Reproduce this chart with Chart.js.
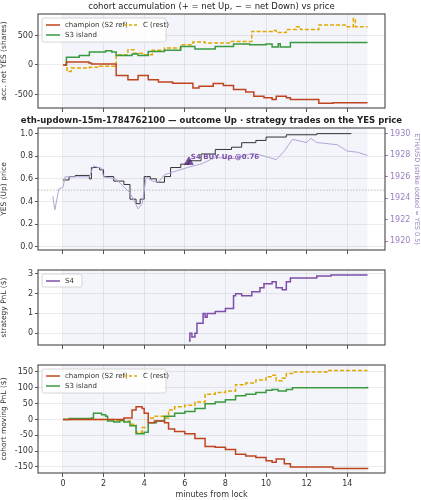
<!DOCTYPE html>
<html><head><meta charset="utf-8">
<script src="https://cdn.jsdelivr.net/npm/chart.js@4/dist/chart.umd.min.js"></script>
<style>body{margin:0;background:#fff}canvas{position:absolute;left:0;top:0}</style>
</head><body>
<canvas id="c1" width="421" height="500"></canvas>
<canvas id="c2" width="421" height="500"></canvas>
<canvas id="c3" width="421" height="500"></canvas>
<canvas id="c4" width="421" height="500"></canvas>
<script>
// ---- data (minutes from lock, value) ----
const accChampion=[[0,0],[0.17,50],[1.28,35],[1.4,15],[2.6,0],[2.62,-180],[3.2,-250],[3.7,-180],[4.2,-250],[4.7,-290],[5.4,-310],[6.4,-390],[6.7,-360],[7.4,-315],[7.9,-350],[8.4,-415],[9.0,-460],[9.4,-530],[9.9,-555],[10.3,-585],[10.5,-530],[11.0,-555],[11.2,-585],[12.6,-650],[13.3,-640],[15,-640]];
const accS3=[[0.1,0],[0.17,130],[0.8,160],[1.3,220],[2.1,240],[2.4,220],[2.62,160],[3.4,185],[3.7,160],[4.2,230],[5.0,250],[5.8,315],[6.5,270],[7.5,315],[8.4,355],[9.2,345],[10.0,355],[10.3,305],[10.6,360],[10.7,305],[11.2,380],[15,380]];
const accC=[[0,0],[0.2,-110],[0.4,-50],[1.3,-40],[1.8,-20],[2.6,-10],[2.62,175],[3.2,260],[3.5,200],[3.9,175],[4.4,250],[5.0,290],[5.8,345],[6.4,390],[7.0,375],[8.2,400],[9.3,570],[10.3,585],[10.5,550],[11.0,600],[11.5,650],[11.7,600],[12.6,680],[13.9,650],[14.3,790],[14.4,650],[15,650]];
const yesPrice=[[0,0.59],[0.3,0.62],[0.6,0.63],[1.3,0.6],[1.4,0.7],[1.8,0.68],[2.0,0.62],[2.5,0.58],[3.0,0.55],[3.3,0.42],[3.6,0.38],[3.8,0.42],[4.0,0.62],[4.3,0.6],[4.6,0.57],[5.0,0.62],[5.3,0.7],[5.8,0.73],[6.2,0.76],[6.8,0.82],[7.5,0.86],[8.3,0.88],[8.8,0.92],[9.5,0.94],[10.0,0.97],[11.0,0.99],[12.5,1.0],[14.2,1.0]];
const ethUsd=[[-0.5,1924.2],[-0.4,1922.9],[-0.2,1924.9],[0,1925],[0.1,1926],[1.3,1926],[1.5,1927],[1.9,1926.8],[2.0,1926],[2.6,1925.8],[3.3,1924.5],[3.7,1923.0],[3.9,1923.5],[4.1,1926.0],[4.4,1925.6],[4.7,1925.5],[5.0,1926.2],[5.5,1926.5],[6.2,1926.9],[6.8,1927.2],[7.5,1927.8],[8.5,1927.7],[9.3,1928.2],[9.8,1928.0],[10.5,1927.6],[10.9,1928.4],[11.3,1929.5],[12.0,1929.2],[12.2,1929.6],[12.5,1929.2],[13.5,1929.0],[14.0,1928.4],[14.5,1928.3],[15,1928]];
const strike=0.5;
const trade=[[6.2,0.75]];
const tradeLabel="S4 BUY Up @0.76";
const pnlS4=[[6.2,-0.4],[6.25,0],[6.35,-0.2],[6.5,0.0],[6.6,0.5],[6.9,1.0],[7.0,0.8],[7.1,1.0],[7.5,1.1],[8.0,1.25],[8.4,1.9],[8.5,2.0],[8.8,1.9],[9.3,2.1],[9.7,2.3],[9.9,2.5],[10.3,2.6],[10.5,2.3],[10.8,2.2],[11.0,2.6],[11.2,2.8],[12.5,2.9],[13.2,2.95],[15,2.95]];
const pnlChampion=[[0,0],[3,5],[3.3,5],[3.4,30],[3.6,40],[3.9,35],[4.0,20],[4.2,-10],[4.5,-5],[5.0,-10],[5.2,-30],[5.5,-38],[6.0,-45],[6.5,-60],[7.0,-85],[7.5,-88],[8.0,-95],[8.5,-110],[9.0,-115],[9.5,-120],[10.0,-130],[10.3,-135],[10.5,-125],[10.9,-140],[11.2,-150],[13.3,-155],[15,-157]];
const pnlS3=[[0,0],[0.3,3],[1.4,5],[1.5,20],[1.9,15],[2.1,10],[2.2,-5],[2.5,-8],[2.8,-3],[3.0,-8],[3.3,-20],[3.6,-45],[4.0,-40],[4.2,-10],[4.6,-5],[5.0,10],[5.5,20],[6.0,25],[6.5,35],[7.0,50],[7.5,55],[8.0,62],[8.5,75],[9.0,80],[9.5,85],[10.0,92],[10.3,95],[10.6,90],[11.0,95],[11.3,100],[15,103]];
const pnlC=[[0,0],[2.5,-3],[3.0,-5],[3.3,-15],[3.6,-40],[3.9,-25],[4.2,5],[4.5,10],[5.0,5],[5.2,30],[5.5,40],[6.0,45],[6.5,55],[7.0,80],[7.5,85],[8.0,90],[8.5,110],[9.0,115],[9.5,125],[10.0,135],[10.3,140],[10.5,122],[10.8,130],[11.0,145],[11.3,150],[12.5,150],[13.0,155],[15,155]];
const xTicks=[0,2,4,6,8,10,12,14];
const ethTicks=[1920,1922,1924,1926,1928,1930];

const RED='#c0451f',GREEN='#3a9a40',GOLD='#e0a800',PURPLE='#7d4fa8',LAV='#b4a5d8';
const FONT='DejaVu Sans';
Chart.defaults.font.family=FONT;Chart.defaults.font.size=8;Chart.defaults.color='#333';
const pts=a=>a.map(p=>({x:p[0],y:p[1]}));

const bgPlugin={id:'bg',beforeDraw(c){const a=c.chartArea,x=c.scales.x,ctx=c.ctx;ctx.save();ctx.fillStyle='#f3f5fb';
 const l=x.getPixelForValue(0),r=x.getPixelForValue(15);ctx.fillRect(l,a.top,r-l,a.bottom-a.top);ctx.restore();},
 afterDraw(c){const a=c.chartArea,ctx=c.ctx;ctx.save();ctx.strokeStyle='#555';ctx.lineWidth=1.2;ctx.strokeRect(a.left,a.top,a.right-a.left,a.bottom-a.top);
 const o=c.options.plugins.extra||{};
 if(o.title){ctx.fillStyle='#222';ctx.font=(o.bold?'bold ':'')+'8.5px '+FONT;ctx.textAlign='center';ctx.textBaseline='bottom';ctx.fillText(o.title,(a.left+a.right)/2,a.top-3);}
 if(o.legend){const L=o.legend;const lx=a.left+4,ly=a.top+4;ctx.fillStyle='rgba(255,255,255,0.85)';ctx.strokeStyle='#ccc';ctx.lineWidth=0.8;
  ctx.beginPath();ctx.roundRect(lx,ly,L.w,L.h,2);ctx.fill();ctx.stroke();
  ctx.font='7px '+FONT;ctx.textBaseline='middle';ctx.textAlign='left';
  L.items.forEach(it=>{const x0=lx+4+it.col*L.colw,y0=ly+7+it.row*10;ctx.strokeStyle=it.c;ctx.lineWidth=1.5;ctx.setLineDash(it.d?[3,2]:[]);
   ctx.beginPath();ctx.moveTo(x0,y0);ctx.lineTo(x0+14,y0);ctx.stroke();ctx.setLineDash([]);ctx.fillStyle='#333';ctx.fillText(it.t,x0+19,y0);});}
 if(o.annot){const x=c.scales.x.getPixelForValue(trade[0][0]),y=c.scales.y.getPixelForValue(trade[0][1]);ctx.fillStyle=PURPLE;ctx.font='bold 7px '+FONT;ctx.textAlign='left';ctx.textBaseline='bottom';ctx.fillText(tradeLabel,x+2,y-1);}
 ctx.restore();}};

function xScale(showLabels){return {type:'linear',min:-1.23,max:15.86,
 afterBuildTicks:s=>{s.ticks=xTicks.map(v=>({value:v}));},
 afterFit:s=>{s.height=showLabels?27:4;},
 grid:{color:'rgba(0,0,0,0.07)',tickColor:'#555',tickLength:4,drawOnChartArea:true},border:{display:false},
 ticks:{display:showLabels,padding:2,color:'#333',maxRotation:0,font:{size:8}},
 title:{display:showLabels,text:'minutes from lock',padding:{top:0,bottom:0},font:{size:8}}};}
function yScale(min,max,step,title,fmt){return {type:'linear',min,max,
 afterBuildTicks:s=>{const t=[];for(let v=Math.ceil(min/step)*step;v<=max+1e-9;v+=step)t.push({value:+v.toFixed(4)});s.ticks=t;},
 afterFit:s=>{s.width=38;},grid:{color:'rgba(0,0,0,0.07)',tickColor:'#555',tickLength:3},border:{display:false},
 ticks:{padding:2,font:{size:8},callback:fmt||(v=>String(v))},title:{display:true,text:title,padding:{top:0,bottom:1},font:{size:7.5}}};}
function ds(data,color,extra){return Object.assign({data:pts(data),borderColor:color,backgroundColor:color,borderWidth:1.5,pointRadius:0,stepped:'before',fill:false},extra||{});}
function mk(id,datasets,scales,top,bottom,xLab,extra,rightPad){
 const xh=xLab?27:4;
 return new Chart(document.getElementById(id),{type:'line',data:{datasets},
  options:{responsive:false,animation:false,events:[],layout:{padding:{left:0,top:top,right:rightPad==null?36:rightPad,bottom:500-bottom-xh}},
  scales:Object.assign({x:xScale(xLab)},scales),plugins:{legend:{display:false},tooltip:{enabled:false},extra}},plugins:[bgPlugin]});}

const legend3={w:124,h:24,colw:78,items:[{t:'champion (S2 ref)',c:RED,col:0,row:0},{t:'C (rest)',c:GOLD,d:1,col:1,row:0},{t:'S3 island',c:GREEN,col:0,row:1}]};

mk('c1',[ds(accChampion,RED),ds(accS3,GREEN),ds(accC,GOLD,{borderDash:[4,2]})],
 {y:yScale(-730,865,500,'acc. net YES (shares)')},14,108,false,{title:'cohort accumulation (+ = net Up, \u2212 = net Down) vs price',legend:legend3});

mk('c2',[ds(ethUsd,LAV,{stepped:false,borderWidth:1,yAxisID:'y2'}),
 {data:[{x:-1.23,y:strike},{x:15.86,y:strike}],borderColor:'#bbb',borderWidth:1,borderDash:[1.5,1.5],pointRadius:0},
 ds(yesPrice,'#333',{borderWidth:1}),
 {type:'scatter',data:pts(trade),pointStyle:'triangle',pointRadius:5,backgroundColor:PURPLE,borderColor:PURPLE}],
 {y:yScale(-0.03,1.05,0.2,'YES (Up) price',v=>v.toFixed(1)),
  y2:{position:'right',type:'linear',min:1919.16,max:1930.56,afterBuildTicks:s=>{s.ticks=ethTicks.map(v=>({value:v}));},
   afterFit:s=>{s.width=36;},grid:{drawOnChartArea:false,tickColor:'#9b7fc0',tickLength:3},border:{display:false},
   ticks:{color:'#9b7fc0',padding:2,font:{size:8},callback:v=>String(v)},title:{display:true,text:'ETH/USD (strike dotted = YES 0.5)',color:'#9b7fc0',padding:{top:0,bottom:0},font:{size:6.5}}}},
 128,250,false,{title:'eth-updown-15m-1784762100 \u2014 outcome Up \u00b7 strategy trades on the YES price',bold:true,annot:true},0);

mk('c3',[ds(pnlS4,PURPLE)],{y:yScale(-0.6,3.2,1,'strategy PnL ($)')},270,345,false,
 {legend:{w:40,h:13,colw:40,items:[{t:'S4',c:PURPLE,col:0,row:0}]}});

mk('c4',[ds(pnlChampion,RED),ds(pnlS3,GREEN),ds(pnlC,GOLD,{borderDash:[4,2]})],
 {y:yScale(-169,172,50,'cohort moving PnL ($)')},365,473,true,{legend:legend3});
</script></body></html>
